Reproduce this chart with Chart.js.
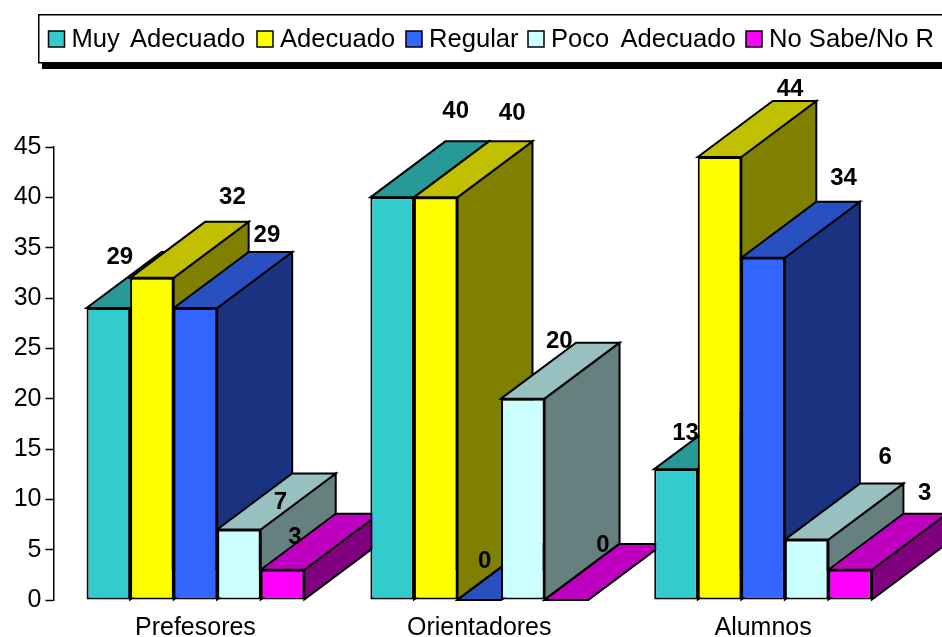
<!DOCTYPE html>
<html>
<head>
<meta charset="utf-8">
<title>Chart</title>
<script src="https://cdn.jsdelivr.net/npm/chart.js@4"></script>
<style>
  html, body { margin: 0; padding: 0; background: #fff; overflow: hidden; }
  canvas { display: block; }
</style>
</head>
<body>
<canvas id="chart" width="942" height="637"></canvas>
<script>
// === Data ===
const categories = ["Prefesores", "Orientadores", "Alumnos"];
const muyAdecuado = [29, 40, 13];
const adecuado = [32, 40, 44];
const regular = [29, 0, 34];
const pocoAdecuado = [7, 20, 6];
const noSabe = [3, 0, 3];
const yTicks = [0, 5, 10, 15, 20, 25, 30, 35, 40, 45];

// === Look ===
const FONT = "'Liberation Sans', Arial, sans-serif";
const DEPTH_X = 75;
const DEPTH_Y = 56;
const EDGE = 2;

const series = [
  { label: "Muy Adecuado", data: muyAdecuado, front: "#33CCCC", top: "#289999", side: "#1A6666" },
  { label: "Adecuado", data: adecuado, front: "#FFFF00", top: "#C0C000", side: "#808000" },
  { label: "Regular", data: regular, front: "#3366FF", top: "#2850C0", side: "#1A3380" },
  { label: "Poco Adecuado", data: pocoAdecuado, front: "#CCFFFF", top: "#99C0C0", side: "#668080" },
  { label: "No Sabe/No R", data: noSabe, front: "#FF00FF", top: "#C000C0", side: "#800080" },
];

// legend swatch positions and word gaps, the original spacing is uneven
const legendX = [48.5, 257, 406, 528, 746];
const legendWordGap = [3, 0, 0, 4, 0];

// value labels sit by hand in the original, so each has its own nudge from the bar top
// [series][category] -> [dx, dy]
const labelNudge = [
  [[11, -52], [63, -87], [9, -37]],
  [[80, -81], [76, -85], [70, -69]],
  [[71, -74], [5, -40], [80, -80]],
  [[41, -28], [36, -58], [78, -83]],
  [[12, -33], [36, -56], [74, -77]],
];

function face(ctx, pts, fill) {
  ctx.beginPath();
  pts.forEach((p, i) => (i ? ctx.lineTo(p[0], p[1]) : ctx.moveTo(p[0], p[1])));
  ctx.closePath();
  ctx.fillStyle = fill;
  ctx.fill();
  ctx.stroke();
}

// top and side of every bar, left to right; the fronts come after from the library
const depthFaces = {
  id: "depthFaces",
  beforeDatasetsDraw(chart) {
    const ctx = chart.ctx;
    ctx.save();
    ctx.strokeStyle = "#000";
    ctx.lineWidth = EDGE;
    ctx.lineJoin = "miter";
    categories.forEach((c, i) => {
      series.forEach((s, d) => {
        const bar = chart.getDatasetMeta(d).data[i];
        const l = bar.x - bar.width / 2;
        const r = bar.x + bar.width / 2;
        const t = bar.y;
        const b = bar.base;
        face(ctx, [[r, t], [r + DEPTH_X, t - DEPTH_Y], [r + DEPTH_X, b - DEPTH_Y], [r, b]], s.side);
        face(ctx, [[l, t], [l + DEPTH_X, t - DEPTH_Y], [r + DEPTH_X, t - DEPTH_Y], [r, t]], s.top);
      });
    });
    ctx.restore();
  },
};

const valueLabels = {
  id: "valueLabels",
  afterDatasetsDraw(chart) {
    const ctx = chart.ctx;
    ctx.save();
    ctx.font = "bold 24px " + FONT;
    ctx.fillStyle = "#000";
    ctx.textAlign = "center";
    ctx.textBaseline = "middle";
    series.forEach((s, d) => {
      chart.getDatasetMeta(d).data.forEach((bar, i) => {
        const n = labelNudge[d][i];
        ctx.fillText(String(s.data[i]), bar.x + n[0] + 0.5, bar.y + n[1] + 1);
      });
    });
    ctx.restore();
  },
};

// legend box runs off the right edge like the original, so it is drawn here
const legendBox = {
  id: "legendBox",
  afterDraw(chart) {
    const ctx = chart.ctx;
    ctx.save();
    ctx.fillStyle = "#000";
    ctx.fillRect(42, 63, 900, 6);
    ctx.strokeStyle = "#000";
    ctx.lineWidth = 1.5;
    ctx.strokeRect(38.75, 14.75, 920, 48);
    ctx.font = "25.6px " + FONT;
    ctx.textAlign = "left";
    ctx.textBaseline = "alphabetic";
    series.forEach((s, i) => {
      const x = legendX[i];
      ctx.fillStyle = s.front;
      ctx.fillRect(x, 31, 16, 16);
      ctx.strokeRect(x, 31, 16, 16);
      ctx.fillStyle = "#000";
      ctx.wordSpacing = legendWordGap[i] + "px";
      ctx.fillText(s.label, x + 23, 47);
    });
    ctx.restore();
  },
};

new Chart(document.getElementById("chart"), {
  type: "bar",
  data: {
    labels: categories,
    datasets: series.map(s => ({
      label: s.label,
      data: s.data,
      backgroundColor: s.front,
      borderColor: "#000",
      borderWidth: EDGE,
      borderSkipped: false,
    })),
  },
  options: {
    responsive: false,
    animation: false,
    layout: { padding: { top: 147, right: 37, left: 0, bottom: 0 } },
    datasets: { bar: { barPercentage: 1, categoryPercentage: 0.767 } },
    plugins: {
      legend: { display: false },
      title: { display: false },
      tooltip: { enabled: false },
    },
    scales: {
      x: {
        grid: { display: false },
        border: { display: false },
        ticks: { color: "#000", font: { family: FONT, size: 25 }, padding: 5, maxRotation: 0 },
        afterFit: scale => { scale.height = 37; },
      },
      y: {
        min: 0,
        max: 45,
        afterBuildTicks: scale => { scale.ticks = yTicks.map(v => ({ value: v })); },
        grid: { drawOnChartArea: false, drawTicks: true, tickLength: 8, tickColor: "#000", tickWidth: 1.5 },
        border: { display: true, color: "#000", width: 1.5 },
        ticks: { color: "#000", font: { family: FONT, size: 25 }, padding: 4 },
        afterFit: scale => { scale.width = 53.5; },
      },
    },
  },
  plugins: [depthFaces, valueLabels, legendBox],
});
</script>
</body>
</html>
